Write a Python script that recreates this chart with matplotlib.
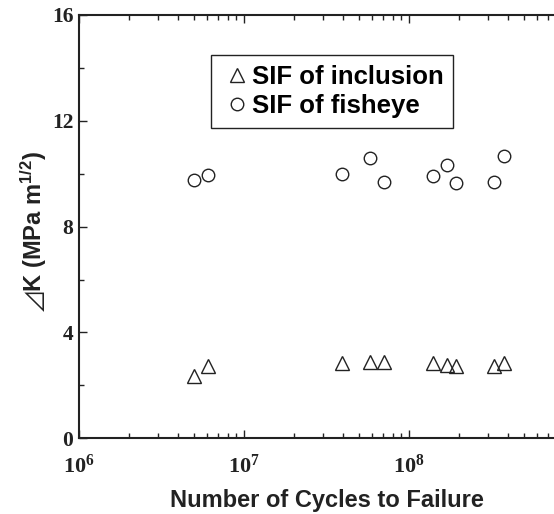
import matplotlib
matplotlib.use('Agg')
import matplotlib.pyplot as plt
from matplotlib.ticker import FixedLocator, LogLocator, NullFormatter

plt.rcParams['mathtext.fontset'] = 'custom'
plt.rcParams['mathtext.rm'] = 'Liberation Serif:bold'
plt.rcParams['mathtext.bf'] = 'Liberation Serif:bold'
plt.rcParams['mathtext.sf'] = 'Liberation Sans:bold'
plt.rcParams['mathtext.it'] = 'Noto Sans CJK SC'  # only used for the delta sign

# cycles to failure (same specimens for both series)
cycles = [5.0e6, 6.05e6, 3.9e7, 5.8e7, 7.1e7, 1.40e8, 1.71e8, 1.92e8, 3.29e8, 3.77e8]
sif_inclusion = [2.36, 2.74, 2.85, 2.87, 2.87, 2.85, 2.78, 2.75, 2.72, 2.85]
sif_fisheye = [9.76, 9.96, 9.99, 10.61, 9.70, 9.92, 10.33, 9.64, 9.69, 10.68]

x_ticks = [1e6, 1e7, 1e8]
x_labels = [r'$\mathbf{10^{6}}$', r'$\mathbf{10^{7}}$', r'$\mathbf{10^{8}}$']
y_ticks = [0, 4, 8, 12, 16]

W, H = 554, 514
fig = plt.figure(figsize=(W / 100, H / 100), dpi=100)
# right part of the frame is cut off in the original picture
ax = fig.add_axes([79 / W, (H - 438.3) / H, 495 / W, 423.3 / H])

mk = dict(linestyle='none', markerfacecolor='none', markeredgecolor='#222222', markeredgewidth=1.0)
ax.plot(cycles, sif_inclusion, marker='^', markersize=10, label='SIF of inclusion', **mk)
ax.plot(cycles, sif_fisheye, marker='o', markersize=9, label='SIF of fisheye', **mk)

ax.set_xscale('log')
ax.set_xlim(1e6, 1e9)
ax.set_ylim(0, 16)

ax.xaxis.set_major_locator(FixedLocator(x_ticks))
ax.set_xticks(x_ticks, x_labels)
ax.xaxis.set_minor_locator(LogLocator(base=10, subs=range(2, 10)))
ax.xaxis.set_minor_formatter(NullFormatter())
ax.set_yticks(y_ticks)
ax.set_yticks([2, 6, 10, 14], minor=True)
for lab in ax.get_yticklabels():
    lab.set_fontfamily('Liberation Serif')
    lab.set_fontweight('bold')

ax.tick_params(which='both', direction='in', top=True, right=True, width=1.0, colors='#222222')
ax.tick_params(which='major', length=6)
ax.tick_params(which='minor', length=3.6)
ax.tick_params(axis='x', labelsize=16, pad=11)
ax.tick_params(axis='y', labelsize=15.5, pad=4)
for sp in ax.spines.values():
    sp.set_linewidth(1.5)
    sp.set_color('#222222')

ax.set_xlabel('Number of Cycles to Failure', fontsize=17, fontweight='bold',
              family='Liberation Sans', color='#222222', labelpad=9)
ax.set_ylabel('$\\mathit{\u22bf}$K (MPa m$\\mathsf{^{1/2}}$)', fontsize=17, fontweight='bold',
              family='Liberation Sans', color='#222222', labelpad=2)
ax.yaxis.label.set_y(0.487)

leg = ax.legend(loc='upper left', bbox_to_anchor=(211 / W, 1 - 55 / H),
                bbox_transform=fig.transFigure, prop={'family': 'Liberation Sans', 'weight': 'bold', 'size': 18.5},
                frameon=True, fancybox=False, edgecolor='#222222', framealpha=1,
                handlelength=1.3, handletextpad=-0.1, labelspacing=0.2, borderpad=0.38,
                borderaxespad=0, markerscale=1.0)
leg.get_frame().set_linewidth(1.0)

fig.savefig('out.png', dpi=100)
